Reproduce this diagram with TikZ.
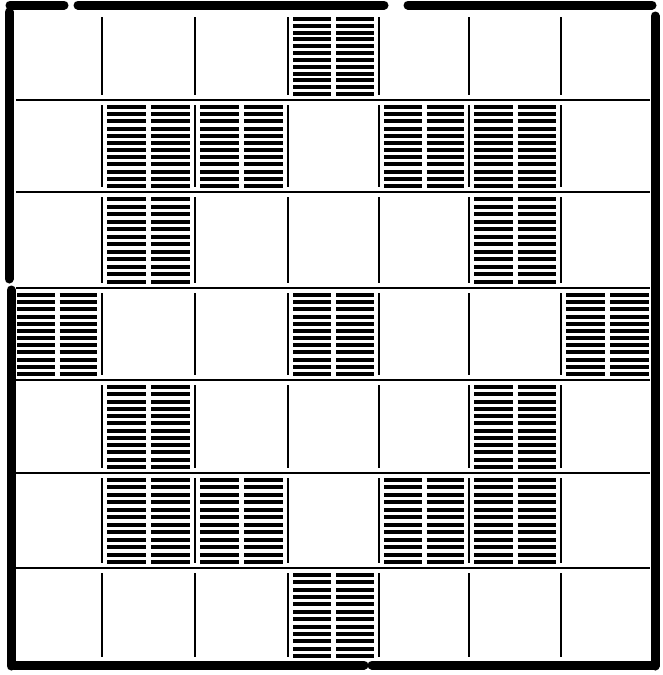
\documentclass[tikz,border=0pt]{standalone}
\begin{document}
\begin{tikzpicture}[x=1pt,y=-1pt,
  border/.style={line width=9pt,line cap=round},
  gridline/.style={line width=1.8pt},
  hatchline/.style={line width=3.2pt}]
\useasboundingbox (0,0) rectangle (663,675);
\fill[white] (0,0) rectangle (663,675);
\def\xs{{12,102,195,288,379,469,561,654}}
\def\ys{{12,100,192,288,380,473,568,662}}
% horizontal row lines
\foreach \r in {1,...,6}{
  \pgfmathsetmacro\yy{\ys[\r]}
  \draw[gridline] (16,\yy) -- (650,\yy);
}
% vertical cell lines, per row
\foreach \r in {0,...,6}{
  \pgfmathsetmacro\ya{\ys[\r]+5}
  \pgfmathsetmacro\yb{\ys[\r+1]-5}
  \foreach \c in {1,...,6}{
    \pgfmathsetmacro\xx{\xs[\c]}
    \draw[gridline] (\xx,\ya) -- (\xx,\yb);
  }
}
% hatched cells: row/col
\foreach \r/\c in {0/3, 1/1,1/2,1/4,1/5, 2/1,2/5, 3/0,3/3,3/6, 4/1,4/5, 5/1,5/2,5/4,5/5, 6/3}{
  \pgfmathsetmacro\xa{\xs[\c]+5}
  \pgfmathsetmacro\xb{\xs[\c+1]-5}
  \pgfmathsetmacro\xm{(\xa+\xb)/2}
  \pgfmathsetmacro\ya{\ys[\r]+7}
  \pgfmathsetmacro\yb{\ys[\r+1]-6}
  \foreach \k in {0,...,11}{
    \pgfmathsetmacro\yy{round(\ya+\k*(\yb-\ya)/11)}
    \draw[hatchline] (\xa,\yy) -- (\xm-2.5,\yy);
    \draw[hatchline] (\xm+2.5,\yy) -- (\xb,\yy);
  }
}
% thick outer border
\draw[border] (10,5) -- (64,5);
\draw[border] (78,5) -- (384,5);
\draw[border] (408,5) -- (652,5);
\draw[border] (9,12) -- (9,279);
\draw[border] (11,290) -- (11,666);
\draw[border] (655,16) -- (655,666);
\draw[border] (14,665) -- (364,665);
\draw[border] (372,665) -- (655,665);
\end{tikzpicture}
\end{document}
